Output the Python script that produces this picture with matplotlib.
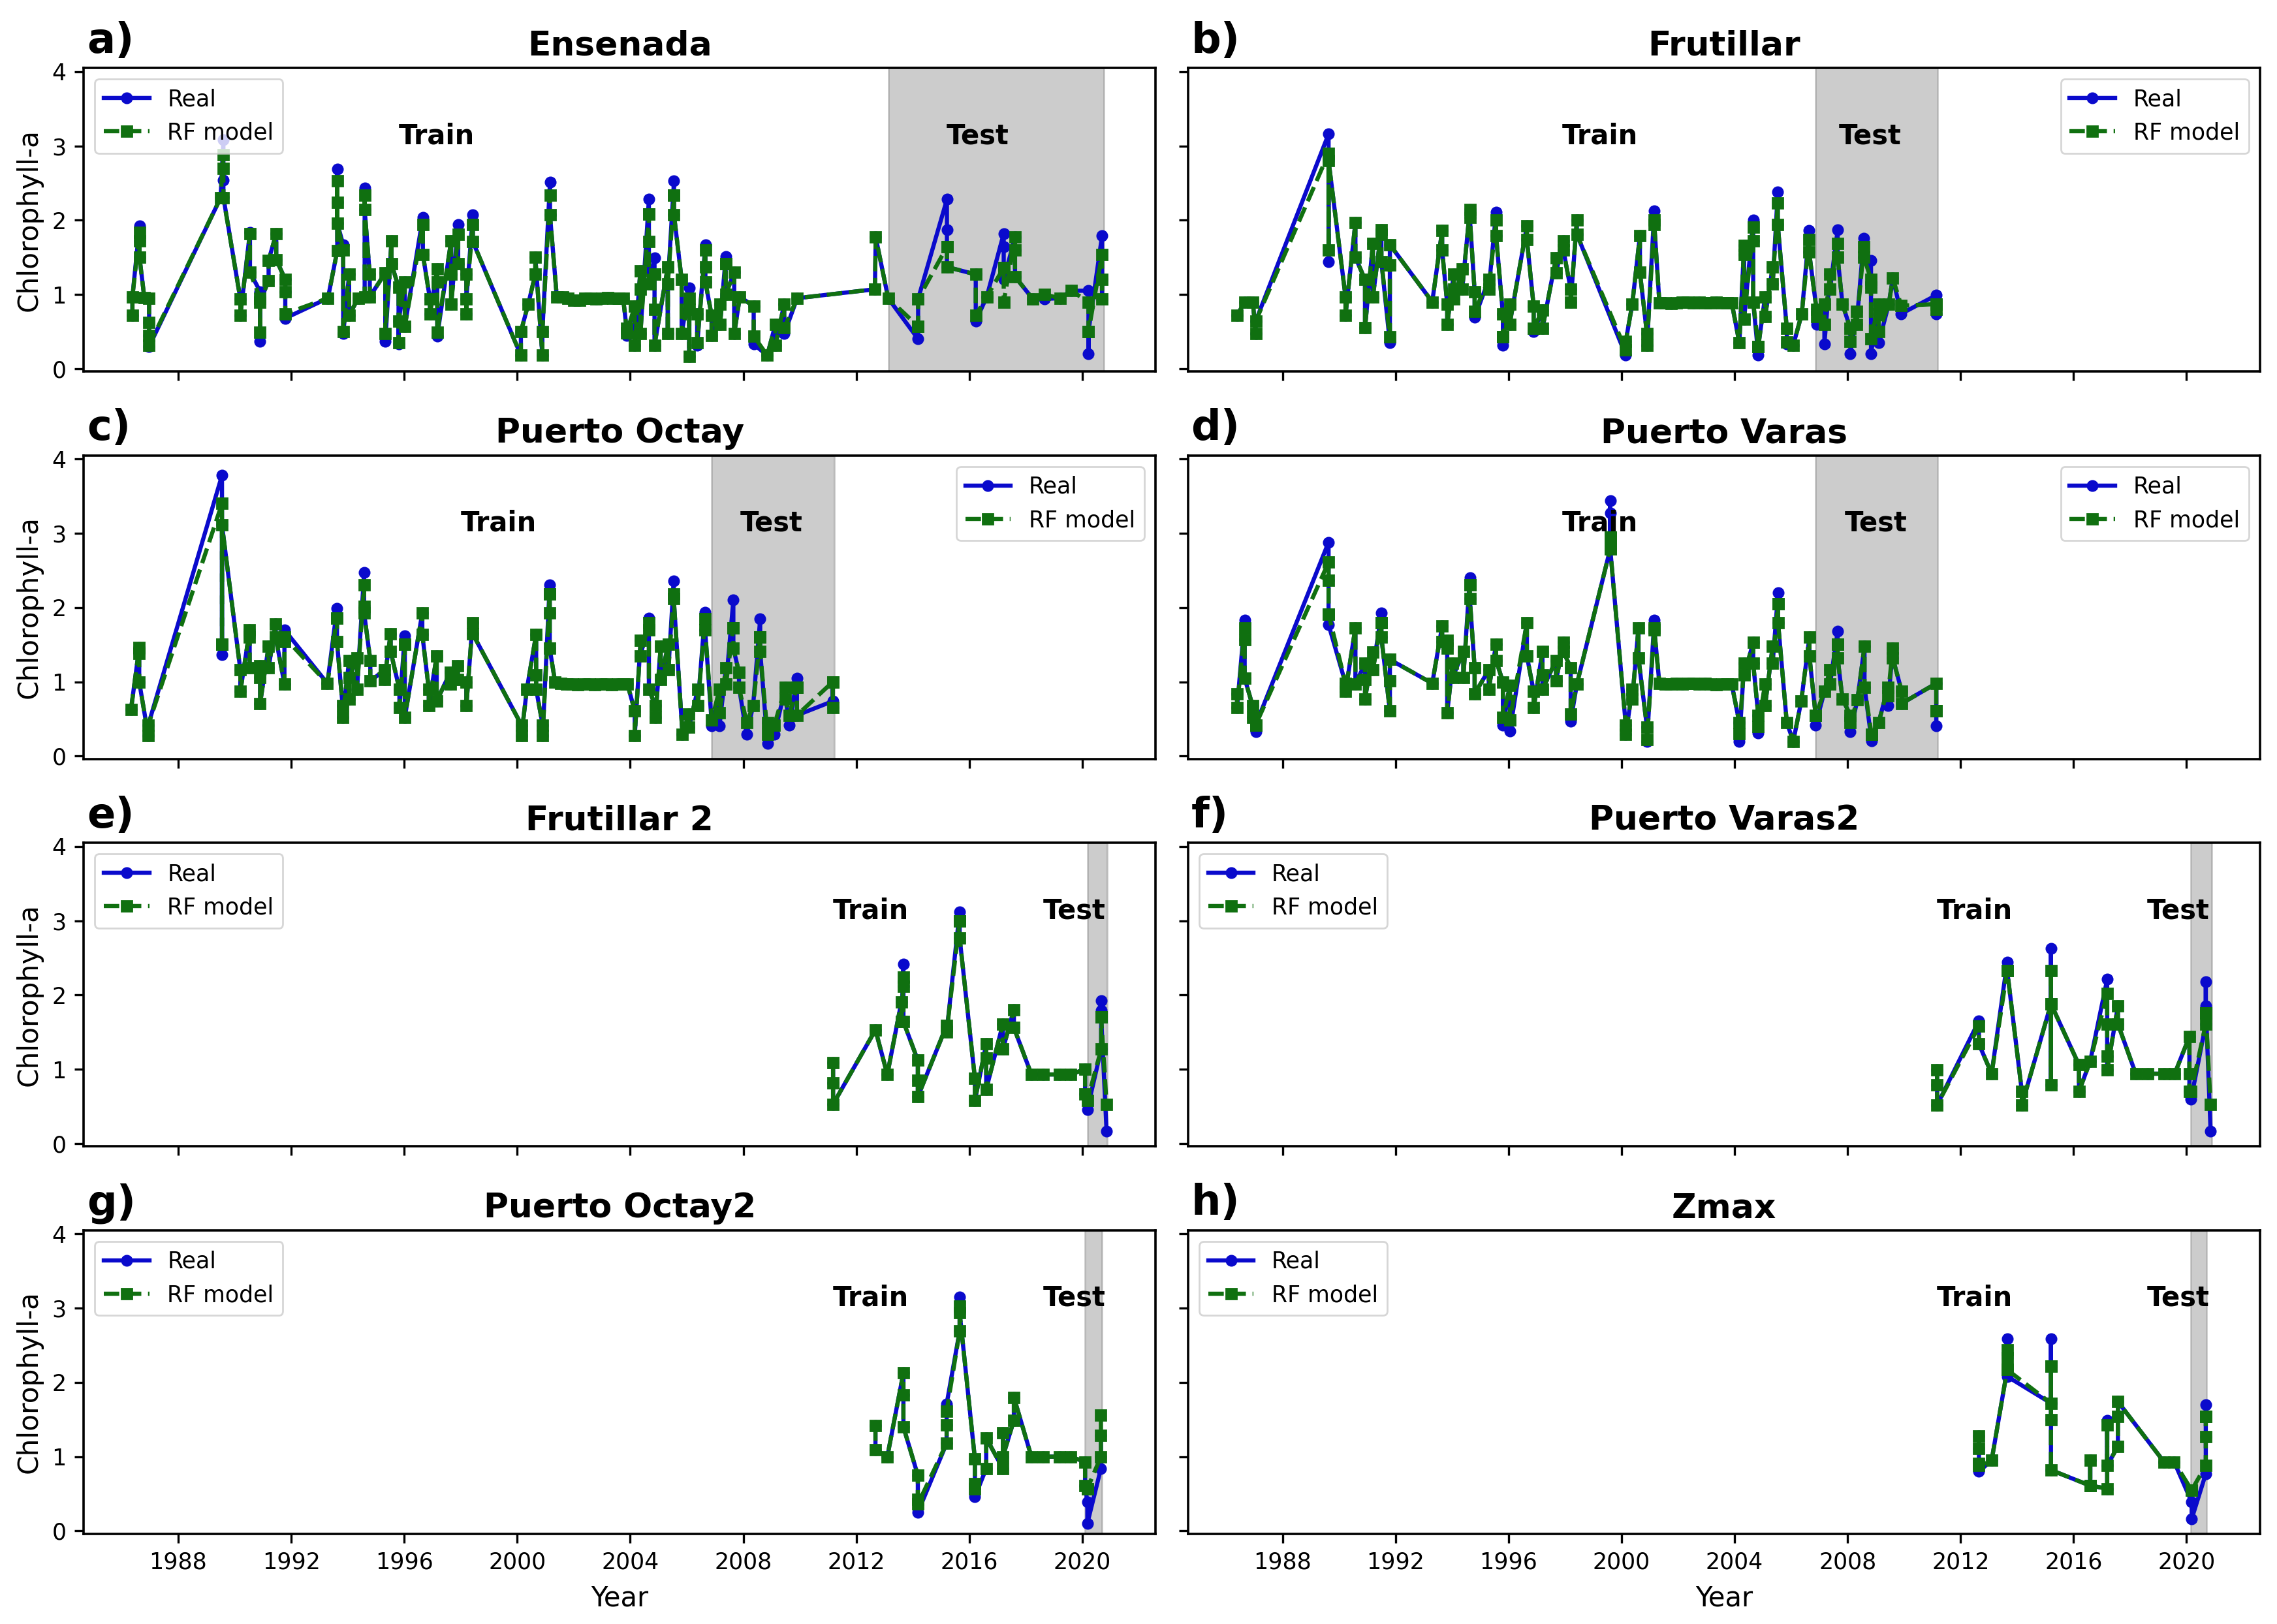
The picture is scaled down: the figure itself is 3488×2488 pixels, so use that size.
import matplotlib
matplotlib.use("Agg")
import matplotlib.pyplot as plt

# values, grouped by sampling date
a_years = [1986.38, 1986.38, 1986.63, 1986.63, 1986.63, 1986.8, 1986.97, 1986.97, 1986.97, 1986.97,
           1989.5, 1989.6, 1989.6, 1989.6, 1990.2, 1990.2, 1990.54, 1990.54, 1990.9, 1990.9, 1990.9,
           1991.2, 1991.2, 1991.47, 1991.47, 1991.79, 1991.79, 1991.79, 1993.3,
           1993.63, 1993.63, 1993.63, 1993.63, 1993.84, 1993.84, 1994.05, 1994.05, 1994.37,
           1994.6, 1994.6, 1994.6, 1994.78, 1994.78, 1995.33, 1995.33, 1995.55, 1995.55,
           1995.8, 1995.8, 1995.8, 1996.02, 1996.02, 1996.66, 1996.66, 1996.91, 1996.91,
           1997.17, 1997.17, 1997.17, 1997.66, 1997.66, 1997.66, 1997.91, 1997.91,
           1998.2, 1998.2, 1998.2, 1998.43, 1998.43, 2000.13, 2000.13, 2000.39, 2000.64, 2000.64,
           2000.89, 2000.89, 2001.16, 2001.16,
           2001.4, 2001.6, 2001.8, 2002.0, 2002.2, 2002.4, 2002.6, 2002.8, 2003.0, 2003.2, 2003.4, 2003.6, 2003.75,
           2003.87, 2003.87, 2004.16, 2004.16, 2004.36, 2004.36, 2004.36, 2004.66, 2004.66, 2004.66, 2004.66,
           2004.86, 2004.86, 2004.86, 2004.86, 2005.33, 2005.33, 2005.33, 2005.55, 2005.55, 2005.55,
           2005.82, 2005.82, 2006.09, 2006.09, 2006.09, 2006.37, 2006.37, 2006.66, 2006.66, 2006.66,
           2006.88, 2006.88, 2007.18, 2007.18, 2007.38, 2007.38, 2007.38, 2007.68, 2007.68, 2007.88,
           2008.37, 2008.37, 2008.85, 2009.14, 2009.14, 2009.45, 2009.45, 2009.91, 2012.66, 2012.69,
           2013.13, 2014.19, 2014.19, 2014.19, 2015.21, 2015.21, 2015.21, 2016.23, 2016.23, 2016.62,
           2017.22, 2017.22, 2017.22, 2017.62, 2017.62, 2017.62, 2018.25, 2018.66, 2019.21, 2019.61,
           2020.22, 2020.22, 2020.22, 2020.7, 2020.7, 2020.7]
a_real = [0.72, 0.97, 1.92, 1.72, 1.5, 0.96, 0.95, 0.62, 0.45, 0.3,
          2.3, 3.08, 2.54, 2.31, 0.94, 0.72, 1.84, 1.3, 1.04, 0.37, 0.9,
          1.19, 1.46, 1.82, 1.47, 1.2, 1.04, 0.68, 0.95,
          1.59, 2.69, 2.24, 1.96, 1.67, 0.47, 1.27, 0.72, 0.95,
          0.97, 2.43, 2.14, 1.27, 0.97, 1.29, 0.37, 1.72, 1.41,
          1.1, 0.33, 0.64, 1.17, 0.57, 2.04, 1.54, 0.94, 0.74,
          1.34, 1.17, 0.44, 1.72, 1.27, 0.87, 1.94, 1.41,
          1.27, 0.74, 0.94, 2.07, 1.71, 0.18, 0.5, 0.87, 1.27, 1.5,
          0.18, 0.5, 2.51, 2.07,
          0.97, 0.97, 0.95, 0.92, 0.92, 0.95, 0.95, 0.94, 0.95, 0.96, 0.95, 0.95, 0.95,
          0.54, 0.45, 0.84, 0.32, 1.32, 1.07, 0.47, 2.28, 2.08, 1.71, 1.14,
          1.49, 1.27, 0.8, 0.32, 1.37, 0.47, 1.14, 2.53, 2.34, 2.07,
          1.2, 0.47, 1.09, 0.17, 0.8, 0.74, 0.32, 1.67, 1.37, 1.17,
          0.72, 0.45, 0.87, 0.6, 1.51, 1.41, 1.0, 1.3, 0.47, 0.97,
          0.84, 0.33, 0.18, 0.6, 0.32, 0.87, 0.47, 0.95, 1.07, 1.77,
          0.95, 0.4, 0.57, 0.94, 2.28, 1.87, 1.37, 1.27, 0.64, 0.97,
          1.82, 1.64, 1.2, 1.77, 1.6, 1.24, 0.94, 0.94, 0.95, 1.05,
          1.05, 0.2, 0.5, 1.79, 1.2, 0.94]
a_model = [0.72, 0.97, 1.84, 1.72, 1.5, 0.96, 0.95, 0.62, 0.45, 0.32,
           2.3, 2.88, 2.7, 2.3, 0.94, 0.72, 1.82, 1.3, 0.95, 0.49, 0.9,
           1.19, 1.46, 1.82, 1.47, 1.2, 1.04, 0.74, 0.95,
           1.59, 2.53, 2.24, 1.96, 1.6, 0.5, 1.27, 0.72, 0.95,
           0.97, 2.34, 2.14, 1.27, 0.97, 1.29, 0.47, 1.72, 1.41,
           1.1, 0.35, 0.64, 1.17, 0.57, 1.94, 1.54, 0.94, 0.74,
           1.34, 1.17, 0.49, 1.72, 1.27, 0.87, 1.81, 1.41,
           1.27, 0.74, 0.94, 1.94, 1.71, 0.18, 0.5, 0.87, 1.27, 1.5,
           0.18, 0.5, 2.34, 2.07,
           0.97, 0.97, 0.95, 0.92, 0.92, 0.95, 0.95, 0.94, 0.95, 0.96, 0.95, 0.95, 0.95,
           0.54, 0.48, 0.84, 0.32, 1.32, 1.07, 0.47, 2.08, 2.08, 1.71, 1.14,
           1.27, 1.27, 0.8, 0.32, 1.37, 0.47, 1.14, 2.34, 2.34, 2.07,
           1.2, 0.47, 0.95, 0.17, 0.8, 0.74, 0.35, 1.6, 1.37, 1.17,
           0.72, 0.45, 0.87, 0.6, 1.41, 1.41, 1.0, 1.3, 0.47, 0.97,
           0.84, 0.44, 0.18, 0.6, 0.32, 0.87, 0.55, 0.95, 1.07, 1.77,
           0.95, 0.57, 0.57, 0.94, 1.64, 1.64, 1.37, 1.27, 0.72, 0.97,
           1.36, 1.36, 0.9, 1.77, 1.6, 1.24, 0.94, 1.0, 0.95, 1.05,
           0.9, 0.5, 0.5, 1.54, 1.2, 0.94]

b_years = [1986.39, 1986.67, 1986.95, 1987.05, 1987.05, 1989.63, 1989.63, 1989.63, 1990.23, 1990.23, 1990.58, 1990.58,
           1990.92, 1990.92, 1991.2, 1991.2, 1991.5, 1991.5, 1991.5, 1991.8, 1991.8, 1991.8, 1993.3,
           1993.65, 1993.65, 1993.83, 1993.83, 1994.06, 1994.06, 1994.06, 1994.36, 1994.36, 1994.63, 1994.63,
           1994.8, 1994.8, 1995.3, 1995.3, 1995.56, 1995.56, 1995.8, 1995.8, 1995.8, 1996.04, 1996.04,
           1996.65, 1996.65, 1996.89, 1996.89, 1997.2, 1997.2, 1997.68, 1997.68, 1997.94, 1997.94,
           1998.2, 1998.2, 1998.42, 1998.42, 2000.15, 2000.15, 2000.38, 2000.65, 2000.65, 2000.9, 2000.9,
           2001.16, 2001.16,
           2001.34, 2001.55, 2001.75, 2001.95, 2002.15, 2002.35, 2002.55, 2002.75, 2002.95, 2003.15, 2003.35, 2003.55, 2003.75, 2003.9,
           2004.17, 2004.34, 2004.34, 2004.34, 2004.66, 2004.66, 2004.66, 2004.84, 2004.84, 2005.08, 2005.08,
           2005.35, 2005.35, 2005.53, 2005.53, 2005.85, 2005.85, 2006.08, 2006.38, 2006.64, 2006.64,
           2006.9, 2006.9, 2007.18, 2007.18, 2007.38, 2007.38, 2007.65, 2007.65, 2007.82,
           2008.1, 2008.1, 2008.32, 2008.32, 2008.58, 2008.58, 2008.83, 2008.83, 2008.83,
           2009.1, 2009.1, 2009.1, 2009.46, 2009.6, 2009.9, 2011.14, 2011.14, 2011.14]
b_real = [0.72, 0.9, 0.9, 0.47, 0.64, 3.16, 1.44, 2.8, 0.97, 0.72, 1.97, 1.5,
          1.2, 0.55, 1.69, 0.97, 1.87, 1.81, 1.44, 0.35, 1.4, 1.67, 0.9,
          1.86, 1.6, 0.87, 0.6, 1.27, 1.07, 0.94, 1.34, 1.07, 2.14, 2.04,
          1.04, 0.69, 1.2, 1.07, 2.11, 1.79, 0.74, 0.32, 0.43, 0.87, 0.6,
          1.92, 1.74, 0.84, 0.5, 0.79, 0.54, 1.49, 1.29, 1.72, 1.6,
          1.07, 0.9, 2.0, 1.81, 0.18, 0.37, 0.87, 1.79, 1.3, 0.47, 0.32,
          2.13, 1.94,
          0.89, 0.89, 0.88, 0.89, 0.9, 0.9, 0.89, 0.9, 0.89, 0.89, 0.9, 0.89, 0.89, 0.89,
          0.35, 1.66, 1.54, 0.67, 2.0, 1.72, 0.9, 0.18, 0.3, 0.97, 0.7,
          1.37, 1.14, 2.38, 1.94, 0.54, 0.33, 0.32, 0.74, 1.86, 1.57,
          0.8, 0.6, 0.87, 0.33, 1.27, 1.07, 1.87, 1.5, 0.87,
          0.54, 0.2, 0.77, 0.6, 1.76, 1.5, 1.46, 1.1, 0.2,
          0.87, 0.74, 0.35, 0.87, 1.22, 0.74, 0.99, 0.74, 0.87]
b_model = [0.72, 0.9, 0.9, 0.47, 0.64, 2.9, 1.6, 2.8, 0.97, 0.72, 1.97, 1.5,
           1.2, 0.55, 1.69, 0.97, 1.87, 1.81, 1.44, 0.43, 1.4, 1.67, 0.9,
           1.86, 1.6, 0.87, 0.6, 1.27, 1.07, 0.94, 1.34, 1.07, 2.14, 2.04,
           1.04, 0.77, 1.2, 1.07, 2.0, 1.79, 0.74, 0.43, 0.43, 0.87, 0.6,
           1.92, 1.74, 0.84, 0.54, 0.79, 0.54, 1.49, 1.29, 1.72, 1.6,
           1.07, 0.9, 2.0, 1.81, 0.25, 0.37, 0.87, 1.79, 1.3, 0.47, 0.32,
           2.0, 1.94,
           0.89, 0.89, 0.88, 0.89, 0.9, 0.9, 0.89, 0.9, 0.89, 0.89, 0.9, 0.89, 0.89, 0.89,
           0.35, 1.66, 1.54, 0.67, 1.91, 1.72, 0.9, 0.3, 0.3, 0.97, 0.7,
           1.37, 1.14, 2.23, 1.94, 0.54, 0.36, 0.32, 0.74, 1.74, 1.57,
           0.8, 0.7, 0.87, 0.6, 1.27, 1.07, 1.69, 1.5, 0.87,
           0.54, 0.37, 0.77, 0.6, 1.64, 1.5, 1.2, 1.1, 0.4,
           0.87, 0.74, 0.5, 0.87, 1.22, 0.85, 0.87, 0.8, 0.87]

c_years = [1986.33, 1986.62, 1986.62, 1986.62, 1986.94, 1986.94, 1989.55, 1989.55, 1989.55, 1989.55,
           1990.2, 1990.2, 1990.53, 1990.53, 1990.53, 1990.9, 1990.9, 1990.9, 1991.2, 1991.2, 1991.45, 1991.45,
           1991.76, 1991.76, 1991.76, 1993.28, 1993.62, 1993.62, 1993.62, 1993.82, 1993.82,
           1994.05, 1994.05, 1994.05, 1994.33, 1994.33, 1994.58, 1994.58, 1994.58, 1994.8, 1994.8,
           1995.3, 1995.3, 1995.52, 1995.52, 1995.83, 1995.83, 1996.02, 1996.02, 1996.02,
           1996.64, 1996.64, 1996.87, 1996.87, 1997.15, 1997.15, 1997.63, 1997.63, 1997.9, 1997.9,
           1998.2, 1998.2, 1998.42, 1998.42, 2000.15, 2000.15, 2000.34, 2000.67, 2000.67, 2000.67, 2000.9, 2000.9,
           2001.15, 2001.15, 2001.15, 2001.15,
           2001.34, 2001.55, 2001.75, 2001.95, 2002.15, 2002.35, 2002.55, 2002.75, 2002.95, 2003.15, 2003.35, 2003.55, 2003.75, 2003.9,
           2004.16, 2004.16, 2004.37, 2004.37, 2004.66, 2004.66, 2004.66, 2004.89, 2004.89, 2005.08, 2005.08,
           2005.35, 2005.35, 2005.54, 2005.54, 2005.85, 2006.08, 2006.08, 2006.39, 2006.39, 2006.65, 2006.65,
           2006.89, 2007.16, 2007.16, 2007.39, 2007.39, 2007.65, 2007.65, 2007.65, 2007.85, 2007.85,
           2008.12, 2008.35, 2008.6, 2008.6, 2008.6, 2008.86, 2008.86, 2009.1, 2009.5, 2009.5, 2009.63,
           2009.9, 2009.9, 2009.9, 2011.17, 2011.17, 2011.17]
c_real = [0.63, 1.46, 1.38, 1.0, 0.28, 0.42, 3.78, 1.37, 1.51, 3.11,
          1.16, 0.87, 1.7, 1.6, 1.19, 1.22, 1.06, 0.71, 1.48, 1.19, 1.78, 1.6,
          0.97, 1.54, 1.7, 0.98, 1.99, 1.86, 1.54, 0.68, 0.52,
          1.29, 0.77, 1.06, 1.32, 0.9, 2.47, 2.02, 1.93, 1.29, 1.01,
          1.16, 1.03, 1.65, 1.41, 0.9, 0.65, 1.62, 1.51, 0.52,
          1.93, 1.64, 0.9, 0.68, 1.35, 0.74, 1.13, 0.97, 1.22, 1.03,
          1.0, 0.68, 1.8, 1.65, 0.42, 0.28, 0.9, 1.64, 1.09, 0.9, 0.42, 0.28,
          2.31, 2.18, 1.93, 1.45,
          1.0, 0.98, 0.97, 0.97, 0.96, 0.97, 0.97, 0.96, 0.97, 0.97, 0.96, 0.97, 0.97, 0.97,
          0.61, 0.28, 1.56, 1.35, 1.86, 1.7, 0.9, 0.68, 0.52, 1.48, 1.03,
          1.51, 1.16, 2.36, 2.12, 0.29, 0.57, 0.39, 0.9, 0.68, 1.94, 1.7,
          0.41, 0.9, 0.41, 1.19, 0.97, 2.1, 1.73, 1.45, 1.13, 0.93,
          0.29, 0.68, 1.85, 1.6, 1.41, 0.17, 0.45, 0.29, 0.93, 0.77, 0.42,
          1.05, 0.93, 0.55, 0.74, 1.0, 0.65]
c_model = [0.63, 1.46, 1.38, 1.0, 0.28, 0.42, 3.4, 1.51, 1.51, 3.11,
           1.16, 0.87, 1.7, 1.6, 1.19, 1.22, 1.06, 0.71, 1.48, 1.19, 1.78, 1.6,
           0.97, 1.54, 1.6, 0.98, 1.86, 1.86, 1.54, 0.68, 0.52,
           1.29, 0.77, 1.06, 1.32, 0.9, 2.31, 2.02, 1.93, 1.29, 1.01,
           1.16, 1.03, 1.65, 1.41, 0.9, 0.65, 1.51, 1.51, 0.52,
           1.93, 1.64, 0.9, 0.68, 1.35, 0.74, 1.13, 0.97, 1.22, 1.03,
           1.0, 0.68, 1.8, 1.65, 0.42, 0.28, 0.9, 1.64, 1.09, 0.9, 0.42, 0.28,
           2.18, 2.18, 1.93, 1.45,
           1.0, 0.98, 0.97, 0.97, 0.96, 0.97, 0.97, 0.96, 0.97, 0.97, 0.96, 0.97, 0.97, 0.97,
           0.61, 0.28, 1.56, 1.35, 1.8, 1.7, 0.9, 0.68, 0.52, 1.48, 1.03,
           1.51, 1.16, 2.18, 2.12, 0.29, 0.57, 0.39, 0.9, 0.68, 1.85, 1.7,
           0.49, 0.9, 0.58, 1.19, 0.97, 1.73, 1.73, 1.45, 1.13, 0.93,
           0.45, 0.68, 1.6, 1.6, 1.41, 0.29, 0.45, 0.42, 0.93, 0.77, 0.55,
           0.93, 0.93, 0.55, 1.0, 1.0, 0.65]

d_years = [1986.39, 1986.39, 1986.66, 1986.66, 1986.66, 1986.94, 1986.94, 1987.05, 1987.05, 1989.63, 1989.63, 1989.63, 1989.63,
           1990.23, 1990.23, 1990.58, 1990.58, 1990.92, 1990.92, 1990.92, 1991.2, 1991.2, 1991.5, 1991.5, 1991.5,
           1991.8, 1991.8, 1991.8, 1993.3, 1993.65, 1993.65, 1993.83, 1993.83, 1993.83, 1994.02, 1994.02, 1994.4, 1994.4,
           1994.63, 1994.63, 1994.63, 1994.8, 1994.8, 1995.3, 1995.3, 1995.56, 1995.56, 1995.8, 1995.8, 1996.05, 1996.05,
           1996.65, 1996.65, 1996.89, 1996.89, 1997.2, 1997.2, 1997.2, 1997.68, 1997.68, 1997.94, 1997.94,
           1998.2, 1998.2, 1998.42, 1999.6, 1999.6, 1999.6, 1999.6, 2000.15, 2000.15, 2000.38, 2000.38, 2000.6, 2000.6, 2000.9, 2000.9,
           2001.16, 2001.16,
           2001.34, 2001.55, 2001.75, 2001.95, 2002.15, 2002.35, 2002.55, 2002.75, 2002.95, 2003.15, 2003.35, 2003.55, 2003.75, 2003.9,
           2004.17, 2004.17, 2004.34, 2004.34, 2004.66, 2004.66, 2004.84, 2004.84, 2005.08, 2005.08, 2005.35, 2005.35,
           2005.54, 2005.54, 2005.54, 2005.85, 2006.08, 2006.36, 2006.65, 2006.65, 2006.87, 2006.87, 2007.18, 2007.38, 2007.38,
           2007.65, 2007.65, 2007.65, 2007.82, 2008.1, 2008.1, 2008.35, 2008.6, 2008.6, 2008.85, 2008.85, 2009.1,
           2009.43, 2009.43, 2009.6, 2009.6, 2009.92, 2009.92, 2011.14, 2011.14, 2011.14]
d_real = [0.84, 0.65, 1.83, 1.57, 1.05, 0.68, 0.52, 0.33, 0.42, 2.88, 2.37, 1.91, 1.77,
          0.98, 0.87, 1.73, 0.97, 1.25, 1.03, 0.77, 1.4, 1.16, 1.93, 1.8, 1.6,
          0.61, 1.01, 1.3, 0.98, 1.75, 1.54, 1.56, 1.45, 0.58, 1.25, 1.06, 1.41, 1.06,
          2.4, 2.31, 2.12, 1.19, 0.84, 1.16, 0.9, 1.51, 1.29, 1.0, 0.42, 0.95, 0.34,
          1.8, 1.35, 0.87, 0.65, 1.41, 1.09, 0.9, 1.29, 1.01, 1.53, 1.41,
          1.19, 0.47, 0.97, 2.79, 3.44, 3.27, 2.79, 0.42, 0.29, 0.9, 0.77, 1.73, 1.32, 0.39, 0.2,
          1.83, 1.7,
          0.98, 0.97, 0.97, 0.98, 0.97, 0.98, 0.98, 0.97, 0.98, 0.97, 0.96, 0.97, 0.97, 0.97,
          0.45, 0.2, 1.25, 1.09, 1.53, 1.25, 0.55, 0.31, 0.97, 0.68, 1.48, 1.25,
          2.2, 2.05, 1.8, 0.45, 0.2, 0.74, 1.6, 1.35, 0.55, 0.42, 0.87, 1.16, 0.97,
          1.68, 1.51, 1.32, 0.77, 0.55, 0.33, 0.76, 1.48, 0.93, 0.21, 0.29, 0.45,
          0.93, 0.68, 1.45, 1.32, 0.87, 0.71, 0.98, 0.61, 0.41]
d_model = [0.84, 0.65, 1.73, 1.57, 1.05, 0.68, 0.52, 0.42, 0.42, 2.61, 2.37, 1.91, 1.91,
           0.98, 0.87, 1.73, 0.97, 1.25, 1.03, 0.77, 1.4, 1.16, 1.8, 1.8, 1.6,
           0.61, 1.01, 1.3, 0.98, 1.75, 1.54, 1.56, 1.45, 0.58, 1.25, 1.06, 1.41, 1.06,
           2.31, 2.31, 2.12, 1.19, 0.84, 1.16, 0.9, 1.51, 1.29, 1.0, 0.52, 0.95, 0.49,
           1.8, 1.35, 0.87, 0.65, 1.41, 1.09, 0.9, 1.29, 1.01, 1.53, 1.41,
           1.19, 0.57, 0.97, 2.79, 2.95, 2.95, 2.79, 0.42, 0.29, 0.9, 0.77, 1.73, 1.32, 0.39, 0.22,
           1.73, 1.7,
           0.98, 0.97, 0.97, 0.98, 0.97, 0.98, 0.98, 0.97, 0.98, 0.97, 0.96, 0.97, 0.97, 0.97,
           0.45, 0.3, 1.25, 1.09, 1.53, 1.25, 0.55, 0.4, 0.97, 0.68, 1.48, 1.25,
           2.05, 2.05, 1.8, 0.45, 0.2, 0.74, 1.6, 1.35, 0.55, 0.55, 0.87, 1.16, 0.97,
           1.51, 1.51, 1.32, 0.77, 0.55, 0.45, 0.76, 1.48, 0.93, 0.29, 0.29, 0.45,
           0.93, 0.81, 1.45, 1.32, 0.87, 0.71, 0.98, 0.61, 0.61]

e_years = [2011.18, 2011.18, 2011.18, 2012.68, 2013.1, 2013.6, 2013.6, 2013.67, 2013.67, 2013.67,
           2014.18, 2014.18, 2014.18, 2015.2, 2015.2, 2015.66, 2015.66, 2015.66, 2016.2, 2016.2,
           2016.6, 2016.6, 2016.6, 2017.19, 2017.19, 2017.58, 2017.58, 2018.2, 2018.62, 2019.19, 2019.58,
           2020.1, 2020.1, 2020.18, 2020.67, 2020.67, 2020.67, 2020.67, 2020.86]
e_real = [1.09, 0.82, 0.53, 1.53, 0.93, 1.91, 1.64, 2.42, 2.12, 1.64,
          1.12, 0.85, 0.63, 1.59, 1.5, 3.12, 3.0, 2.77, 0.88, 0.58,
          1.34, 1.15, 0.73, 1.61, 1.27, 1.8, 1.56, 0.93, 0.93, 0.93, 0.93,
          1.0, 0.67, 0.46, 1.27, 1.92, 1.79, 1.7, 0.17]
e_model = [1.09, 0.82, 0.53, 1.53, 0.93, 1.91, 1.64, 2.24, 2.12, 1.64,
           1.12, 0.85, 0.63, 1.59, 1.5, 3.0, 3.0, 2.77, 0.88, 0.58,
           1.34, 1.15, 0.73, 1.61, 1.27, 1.8, 1.56, 0.93, 0.93, 0.93, 0.93,
           1.0, 0.67, 0.58, 1.27, 1.7, 1.7, 1.7, 0.53]

f_years = [2011.17, 2011.17, 2011.17, 2012.65, 2012.65, 2013.1, 2013.65, 2013.65, 2014.17, 2014.17,
           2015.2, 2015.2, 2015.2, 2015.2, 2016.19, 2016.19, 2016.59,
           2017.19, 2017.19, 2017.19, 2017.19, 2017.57, 2017.57, 2018.2, 2018.62, 2019.2, 2019.58,
           2020.1, 2020.1, 2020.1, 2020.16, 2020.68, 2020.68, 2020.68, 2020.85]
f_real = [0.99, 0.79, 0.52, 1.65, 1.34, 0.94, 2.44, 2.33, 0.7, 0.52,
          1.88, 2.63, 0.79, 1.88, 1.06, 0.7, 1.11,
          2.21, 1.61, 1.18, 0.99, 1.85, 1.61, 0.94, 0.94, 0.94, 0.94,
          1.44, 0.94, 0.7, 0.6, 1.61, 2.18, 1.85, 0.17]
f_model = [0.99, 0.79, 0.52, 1.58, 1.34, 0.94, 2.33, 2.33, 0.7, 0.52,
           1.88, 2.33, 0.79, 1.88, 1.06, 0.7, 1.11,
           2.02, 1.61, 1.18, 0.99, 1.85, 1.61, 0.94, 0.94, 0.94, 0.94,
           1.44, 0.94, 0.7, 0.7, 1.61, 1.76, 1.76, 0.53]

g_years = [2012.68, 2012.68, 2013.1, 2013.67, 2013.67, 2013.67, 2014.18, 2014.18, 2014.18,
           2015.2, 2015.2, 2015.2, 2015.66, 2015.66, 2015.66, 2016.2, 2016.2, 2016.2,
           2016.6, 2016.6, 2017.19, 2017.19, 2017.19, 2017.58, 2017.58, 2018.2, 2018.62, 2019.19, 2019.58,
           2020.1, 2020.1, 2020.18, 2020.18, 2020.66, 2020.66, 2020.66]
g_real = [1.42, 1.09, 1.0, 2.13, 1.83, 1.4, 0.75, 0.43, 0.25,
          1.18, 1.43, 1.71, 2.69, 3.15, 2.94, 0.97, 0.64, 0.46,
          0.84, 1.25, 0.84, 1.32, 1.0, 1.49, 1.8, 1.0, 1.0, 1.0, 1.0,
          0.93, 0.61, 0.39, 0.1, 0.84, 1.0, 1.29]
g_model = [1.42, 1.09, 1.0, 2.13, 1.83, 1.4, 0.75, 0.43, 0.36,
           1.18, 1.43, 1.61, 2.69, 3.03, 2.94, 0.97, 0.64, 0.57,
           0.84, 1.25, 0.84, 1.32, 1.0, 1.49, 1.8, 1.0, 1.0, 1.0, 1.0,
           0.93, 0.61, 0.57, 0.57, 1.0, 1.29, 1.56]

h_years = [2012.65, 2012.65, 2012.65, 2012.65, 2013.1, 2013.65, 2013.65, 2013.65, 2013.65,
           2015.2, 2015.2, 2015.2, 2015.2, 2015.2, 2016.59, 2016.59, 2016.59, 2017.19, 2017.19, 2017.19,
           2017.57, 2017.57, 2017.57, 2019.2, 2019.56, 2020.18, 2020.18, 2020.68, 2020.68, 2020.68, 2020.68]
h_real = [1.28, 1.11, 0.91, 0.8, 0.95, 2.17, 2.59, 2.33, 2.08,
          1.72, 2.59, 2.22, 1.5, 0.82, 0.61, 0.95, 0.61, 0.57, 1.49, 0.88,
          1.14, 1.54, 1.74, 0.93, 0.93, 0.39, 0.16, 0.77, 1.27, 1.54, 1.7]
h_model = [1.28, 1.11, 0.91, 0.88, 0.95, 2.17, 2.44, 2.33, 2.17,
           1.72, 2.22, 2.22, 1.5, 0.82, 0.61, 0.95, 0.61, 0.57, 1.43, 0.88,
           1.14, 1.54, 1.74, 0.93, 0.93, 0.55, 0.55, 0.88, 1.27, 1.54, 1.54]

titles = ["Ensenada", "Frutillar", "Puerto Octay", "Puerto Varas",
          "Frutillar 2", "Puerto Varas2", "Puerto Octay2", "Zmax"]
letters = ["a)", "b)", "c)", "d)", "e)", "f)", "g)", "h)"]
test_starts = [2013.13, 2006.87, 2006.89, 2006.87, 2020.18, 2020.16, 2020.1, 2020.16]
test_ends = [2020.76, 2011.18, 2011.22, 2011.18, 2020.88, 2020.88, 2020.7, 2020.7]
train_label_x = [1995.8, 1997.9, 1998.0, 1997.9, 2011.17, 2011.16, 2011.17, 2011.16]
test_label_x = [2015.2, 2007.7, 2007.9, 2007.9, 2018.62, 2018.6, 2018.62, 2018.6]
legend_locs = ["upper left", "upper right", "upper right", "upper right",
               "upper left", "upper left", "upper left", "upper left"]

all_years = [a_years, b_years, c_years, d_years, e_years, f_years, g_years, h_years]
all_real = [a_real, b_real, c_real, d_real, e_real, f_real, g_real, h_real]
all_model = [a_model, b_model, c_model, d_model, e_model, f_model, g_model, h_model]

fig, axes = plt.subplots(4, 2, sharex=True, sharey=True, figsize=(17.44, 12.44), dpi=200)
fig.subplots_adjust(left=128/3488, right=3462/3488, top=1-104/2488, bottom=1-2350/2488,
                    wspace=0.03, hspace=0.275)

for i, ax in enumerate(axes.flat):
    ax.axvspan(test_starts[i], test_ends[i], color="gray", alpha=0.4)
    ax.plot(all_years[i], all_real[i], color="#0a0acc", marker="o", markersize=5.5, linewidth=2.3, label="Real")
    ax.plot(all_years[i], all_model[i], color="#107010", marker="s", markersize=5.5, linewidth=2.3,
            linestyle="--", label="RF model")
    ax.text(train_label_x[i], 3.03, "Train", fontsize=15, fontweight="bold")
    ax.text(test_label_x[i], 3.03, "Test", fontsize=15, fontweight="bold")
    ax.text(0.003, 1.05, letters[i], transform=ax.transAxes, fontsize=23, fontweight="bold")
    ax.set_title(titles[i], fontsize=18.7, fontweight="bold", pad=7)
    ax.legend(loc=legend_locs[i], fontsize=12.5)
    ax.tick_params(labelsize=12.5, length=5, width=1.2, pad=4.5)
    for spine in ax.spines.values():
        spine.set_linewidth(1.3)
    if i % 2 == 0:
        ax.set_ylabel("Chlorophyll-a", fontsize=15.2, labelpad=5)
    if i >= 6:
        ax.set_xlabel("Year", fontsize=15, labelpad=6)

ax = axes[0, 0]
ax.set_xlim(1984.65, 2022.6)
ax.set_ylim(-0.04, 4.05)
ax.set_xticks(range(1988, 2021, 4))
ax.set_yticks([0, 1, 2, 3, 4])

fig.savefig("out.png")
